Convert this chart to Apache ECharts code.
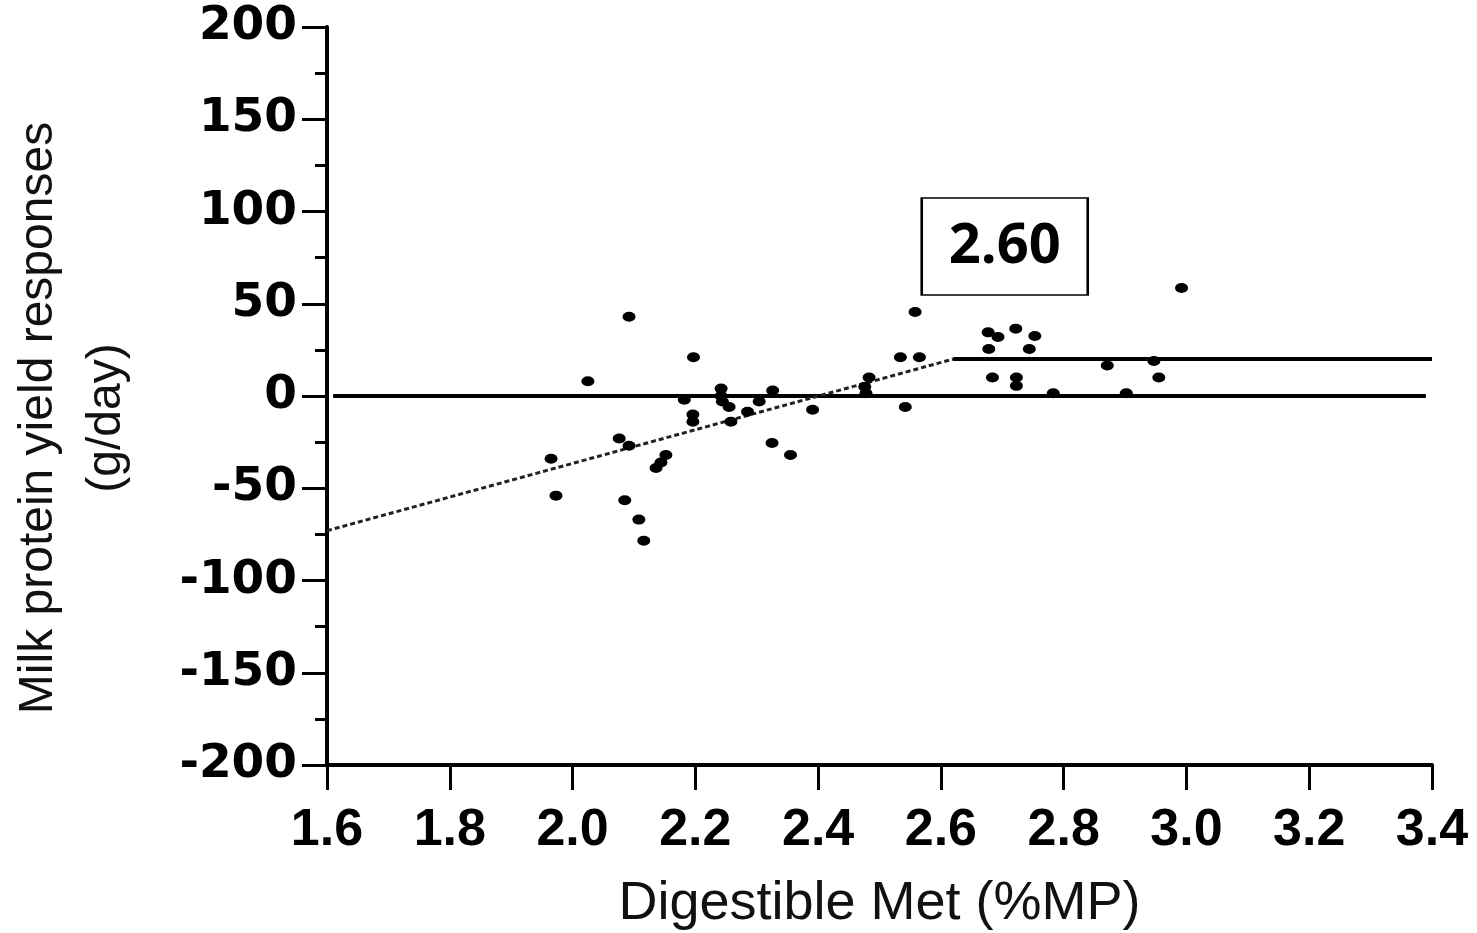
<!DOCTYPE html>
<html>
<head>
<meta charset="utf-8">
<script src="https://cdn.jsdelivr.net/npm/echarts@6/dist/echarts.min.js"></script>
<style>
  html, body { margin: 0; padding: 0; background: #fff; }
  #chart { width: 1477px; height: 933px; }
</style>
</head>
<body>
<div id="chart"></div>
<script>
// observed responses (digestible Met %MP, g/day)
const metX = [2.092, 2.197, 2.025, 2.182, 2.242, 2.242, 2.244, 2.255, 2.285, 2.258,
  2.326, 2.304, 2.391, 2.196, 2.196, 2.076, 2.092, 1.965, 2.152, 2.144,
  2.136, 1.973, 2.085, 2.108, 2.116, 2.325, 2.355, 2.558, 2.534, 2.565,
  2.483, 2.476, 2.478, 2.542, 2.677, 2.693, 2.722, 2.753, 2.678, 2.744,
  2.684, 2.723, 2.723, 2.783, 2.871, 2.992, 2.947, 2.955, 2.902];
const yieldY = [43, 21, 8, -2, 4, 0, -3, -6, -8.5, -14,
  3, -3, -7.5, -10, -14, -23, -27, -34, -32, -36,
  -39, -54, -56.5, -67, -78.5, -25.5, -32, 45.5, 21, 21,
  10, 5, 1.5, -6, 34.5, 32, 36.5, 32.5, 25.5, 25.5,
  10, 10, 5.5, 1.5, 16.5, 58.5, 19, 10, 1.5];

// broken-line fit
const breakX = 2.62;
const slopeLine = [[1.6, -73], [breakX, 20]];
const plateauLine = [[breakX, 20], [3.4, 20]];
const zeroLine = [[1.61, 0], [3.39, 0]];
const breakLabel = '2.60';

const points = metX.map((x, i) => [x, yieldY[i]]);

const chart = echarts.init(document.getElementById('chart'));

chart.setOption({
  animation: false,
  grid: { left: 327, right: 45, top: 27, bottom: 168, outerBoundsMode: 'none', containLabel: false },
  xAxis: {
    type: 'value',
    min: 1.6,
    max: 3.4,
    interval: 0.2,
    name: 'Digestible Met (%MP)',
    nameLocation: 'middle',
    nameGap: 112,
    nameTextStyle: { fontFamily: 'Liberation Sans', fontSize: 54, color: '#111' },
    axisLine: { onZero: false, lineStyle: { color: '#000', width: 4 } },
    axisTick: { length: 25, lineStyle: { color: '#000', width: 3 } },
    axisLabel: {
      margin: 40,
      fontFamily: 'Liberation Sans',
      fontWeight: 'bold',
      fontSize: 52,
      color: '#000',
      formatter: (v) => v.toFixed(1),
    },
    splitLine: { show: false },
  },
  yAxis: {
    type: 'value',
    min: -200,
    max: 200,
    interval: 50,
    name: 'Milk protein yield responses\n(g/day)',
    nameLocation: 'middle',
    nameRotate: 90,
    nameGap: 186,
    nameTextStyle: {
      fontFamily: 'Liberation Sans',
      fontSize: 48,
      lineHeight: 68,
      color: '#111',
      padding: [0, 44, 0, 0],
    },
    axisLine: { onZero: false, lineStyle: { color: '#000', width: 4 } },
    axisTick: { length: 25, lineStyle: { color: '#000', width: 3 } },
    minorTick: { show: true, splitNumber: 2, length: 12, lineStyle: { color: '#000', width: 3 } },
    axisLabel: {
      margin: 30,
      fontFamily: 'DejaVu Sans',
      fontWeight: 'bold',
      fontSize: 47,
      color: '#000',
    },
    splitLine: { show: false },
  },
  series: [
    {
      type: 'line',
      data: zeroLine,
      symbol: 'none',
      lineStyle: { color: '#000', width: 4 },
      z: 2,
    },
    {
      type: 'line',
      data: slopeLine,
      symbol: 'none',
      lineStyle: { color: '#222', width: 3, type: [5, 3] },
      z: 2,
    },
    {
      type: 'line',
      data: plateauLine,
      symbol: 'none',
      lineStyle: { color: '#000', width: 4 },
      z: 2,
    },
    {
      type: 'scatter',
      data: points,
      symbol: 'circle',
      symbolSize: [13, 10],
      itemStyle: { color: '#000', opacity: 1 },
      z: 3,
      markPoint: {
        symbol: 'rect',
        symbolSize: [166, 97],
        silent: true,
        itemStyle: { color: '#fff', borderColor: '#000', borderWidth: 2, opacity: 1 },
        label: {
          show: true,
          position: 'inside',
          formatter: breakLabel,
          fontFamily: 'Open Sans',
          fontWeight: 'bold',
          fontSize: 56,
          color: '#000',
        },
        data: [{ coord: [2.704, 81] }],
      },
    },
  ],
});
</script>
</body>
</html>
